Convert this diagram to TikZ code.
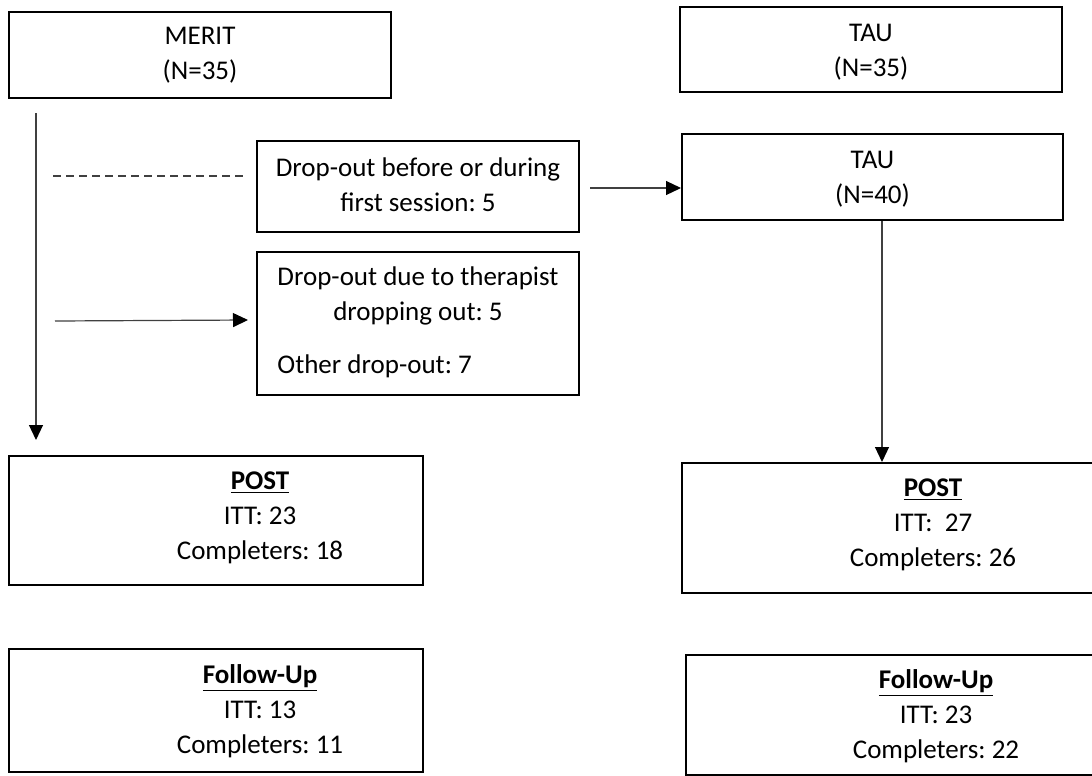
\documentclass[tikz,border=0pt]{standalone}
\usepackage{fontspec}
\setmainfont{Carlito}
\usetikzlibrary{arrows.meta}
\frenchspacing
\newcommand{\ulbold}[1]{\textbf{\underline{#1}}}
\begin{document}
\begin{tikzpicture}[x=0.5pt,y=-0.5pt,
  box/.style={draw=black,line width=1pt,inner sep=0pt,align=center},
  txt/.style={inner sep=0pt,align=center},
  conn/.style={draw=black!75,line width=0.6pt},
  arr/.style={conn,-{Triangle[length=7.5pt,width=7pt,color=black]}},
  every node/.style={font=\fontsize{13.5}{17.5}\selectfont}]
\useasboundingbox (0,0) rectangle (1092,776);
\clip (0,0) rectangle (1092,776);
\fill[white] (0,0) rectangle (1092,776);
% boxes
\node[box,minimum width=191pt,minimum height=43pt] (merit) at (200,55) {MERIT\\(N=35)};
\node[box,minimum width=191pt,minimum height=42.5pt] (tau35) at (871,49.5) {};
\node[txt] (tau35t) at (871,52) {TAU\\(N=35)};
\node[box,minimum width=190.5pt,minimum height=43pt] (tau40) at (872.5,177) {};
\node[txt] (tau40t) at (872.5,179) {TAU\\(N=40)};
\node[box,minimum width=161pt,minimum height=45.5pt] (drop1) at (418,186.5) {};
\node[txt] (drop1t) at (418,185) {Drop-out before or during\\first session: 5};
\node[box,minimum width=161pt,minimum height=71.5pt] (drop2) at (418,323.5) {};
\node[txt] (drop2a) at (418,295.5) {Drop-out due to therapist\\dropping out: 5};
\node[txt,anchor=west] (drop2b) at (277,366) {Other drop-out: 7};
\node[box,minimum width=207pt,minimum height=64.5pt] (postL) at (216,520.5) {};
\node[txt] (postLt) at (260,518) {\ulbold{POST}\\ITT: 23\\Completers: 18};
\node[box,minimum width=207pt,minimum height=61.5pt] (follL) at (216,710.5) {};
\node[txt] (follLt) at (260,711) {\ulbold{Follow-Up}\\ITT: 13\\Completers: 11};
\node[box,minimum width=209pt,minimum height=65pt] (postR) at (891,528) {};
\node[txt] (postRt) at (933,525) {\ulbold{POST}\\ITT:\ \ 27\\Completers: 26};
\node[box,minimum width=207pt,minimum height=60pt] (follR) at (893,715) {};
\node[txt] (follRt) at (936,716) {\ulbold{Follow-Up}\\ITT: 23\\Completers: 22};
% connectors
\coordinate (m1) at (36,113);
\coordinate (m2) at (36,440);
\draw[arr] (m1) -- (m2);
\coordinate (d1) at (53,176);
\coordinate (d2) at (247,176);
\draw[conn,dash pattern=on 4pt off 2.5pt] (d1) -- (d2);
\coordinate (a1) at (55,321);
\coordinate (a2) at (248,320);
\draw[arr] (a1) -- (a2);
\coordinate (t1) at (590,188);
\draw[arr] (t1) -- (t1 -| tau40.west);
\coordinate (t2) at (882,0);
\draw[arr] (tau40.south -| t2) -- (postR.north -| t2);
\end{tikzpicture}
\end{document}
